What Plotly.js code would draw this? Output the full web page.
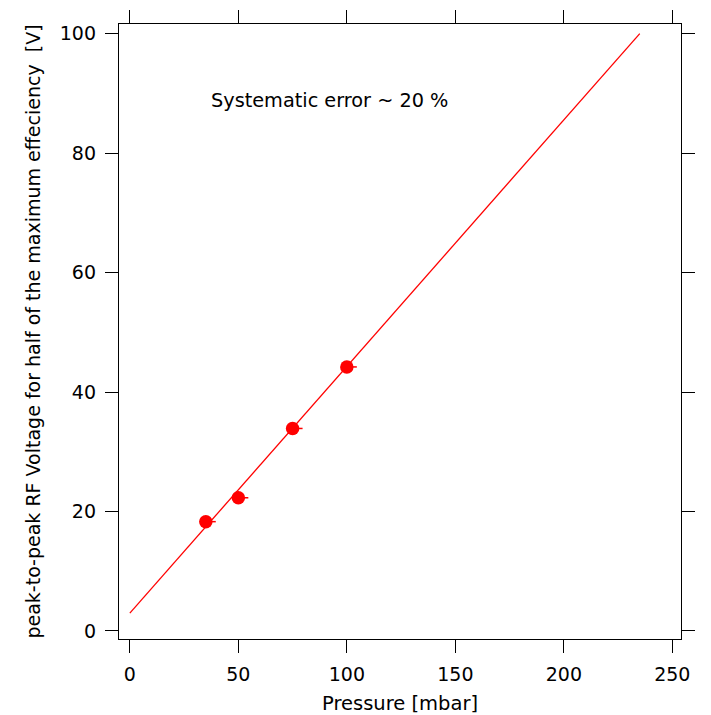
<!DOCTYPE html>
<html>
<head>
<meta charset="utf-8">
<script src="https://cdn.plot.ly/plotly-3.0.1.min.js"></script>
<style>html,body{margin:0;padding:0;background:#fff;}#chart{width:711px;height:715px;}</style>
</head>
<body>
<div id="chart"></div>
<script>
// Measured data
const pressure = [35, 50, 75, 100];
const voltage = [18.3, 22.3, 33.9, 44.2];
const errPlus = [4.6, 4.6, 4.6, 4.6];
const errMinus = [0, 0, 0, 0];
// Linear fit line endpoints
const fitX = [0, 235];
const fitY = [3.0, 100];
const xTicks = [0, 50, 100, 150, 200, 250];
const yTicks = [0, 20, 40, 60, 80, 100];

const FONT = 'DejaVu Sans, sans-serif';
const red = '#ff0000';

const traces = [
  {x: fitX, y: fitY, mode: 'lines', line: {color: red, width: 1.3}, hoverinfo: 'skip', showlegend: false},
  {x: pressure, y: voltage, mode: 'markers', marker: {color: red, size: 13.5},
   error_x: {type: 'data', symmetric: false, array: errPlus, arrayminus: errMinus, color: red, thickness: 1.5, width: 0},
   showlegend: false}
];

const layout = {
  width: 711, height: 715,
  margin: {l: 118.5, r: 29.5, t: 24, b: 76},
  paper_bgcolor: '#fff', plot_bgcolor: '#fff',
  font: {family: FONT, size: 19, color: '#000'},
  showlegend: false,
  xaxis: {
    range: [-5, 254], tickvals: xTicks, ticktext: xTicks.map(String),
    ticks: 'outside', ticklen: 13, tickwidth: 1.3, tickcolor: '#000',
    showline: true, linecolor: '#000', linewidth: 1.3, mirror: 'ticks',
    showgrid: false, zeroline: false, ticklabelstandoff: 5,
    tickfont: {family: FONT, size: 19},
    title: {text: 'Pressure [mbar]', font: {family: FONT, size: 19.5}, standoff: 13}
  },
  yaxis: {
    range: [-1.34, 101.6], tickvals: yTicks, ticktext: yTicks.map(String),
    ticks: 'outside', ticklen: 13, tickwidth: 1.3, tickcolor: '#000',
    showline: true, linecolor: '#000', linewidth: 1.3, mirror: 'ticks',
    showgrid: false, zeroline: false, ticklabelstandoff: 5,
    tickfont: {family: FONT, size: 19},
    title: {text: 'peak-to-peak RF Voltage for half of the maximum effeciency  [V]', font: {family: FONT, size: 19}, standoff: 14}
  },
  annotations: [
    {x: 92, y: 88.8, xref: 'x', yref: 'y', text: 'Systematic error ~ 20 %', showarrow: false,
     font: {family: FONT, size: 19.3, color: '#000'}}
  ]
};

Plotly.newPlot('chart', traces, layout, {displayModeBar: false});
</script>
</body>
</html>
